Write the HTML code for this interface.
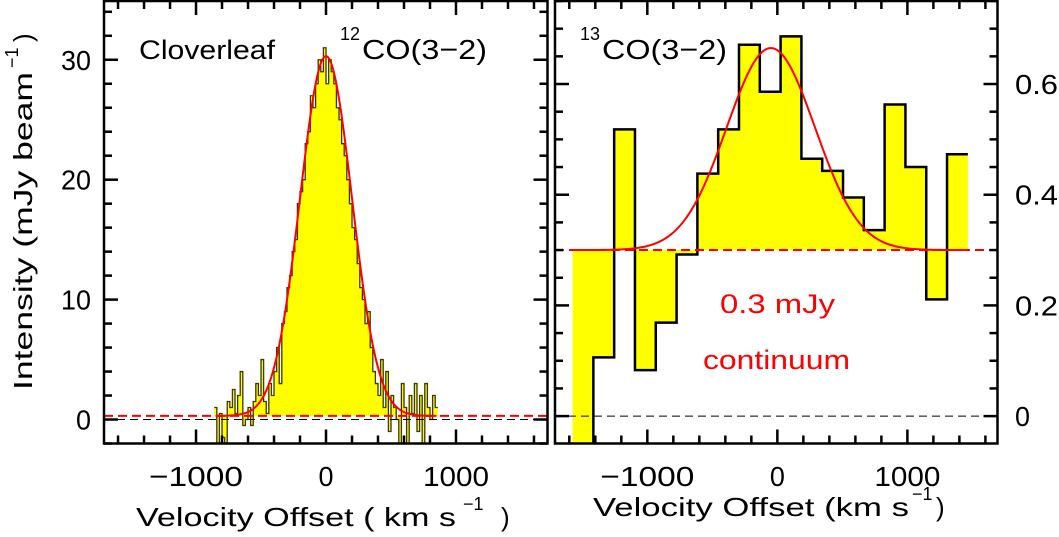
<!DOCTYPE html>
<html><head><meta charset="utf-8"><style>
html,body{margin:0;padding:0;background:#fff;}
svg{display:block;font-family:"Liberation Sans",sans-serif;}
</style></head><body>
<svg id="c" width="1059" height="537" viewBox="0 0 1059 537"></svg>
<script>
// Left panel: 12CO(3-2) spectrum
const leftVel = [-850,-830,-810,-790,-770,-750,-730,-710,-690,-670,-650,-630,-610,-590,-570,-550,-530,-510,-490,-470,-450,-430,-410,-390,-370,-350,-330,-310,-290,-270,-250,-230,-210,-190,-170,-150,-130,-110,-90,-70,-50,-30,-10,10,30,50,70,90,110,130,150,170,190,210,230,250,270,290,310,330,350,370,390,410,430,450,470,490,510,530,550,570,590,610,630,650,670,690,710,730,750,770,790,810,830,850];
const leftFlux = [1.0,-2,0.5,-1.5,-2,1.5,1,2.5,0.5,2,4,-0.5,0,1,-0.5,1.5,3,2,5,1.5,0.5,3,2,4,6,3,8,9,11,12,14,15,18,19,20,23,24,27,26,28,30,29,31,28,30,29,28,26,25,23,22,20,18,16,15,13,11,10,8,9,6,4,3,2,5,1,4,-1,2,1,0,-2,3,1,-2,2,0.5,3,-1,2,-2,3,1,0,2,1];
const leftFit = {amp:30.0, center:0, fwhm:470, base:0.3};
const leftYTicks = [0,10,20,30];
const xTicks = [-1000,0,1000];
// Right panel: 13CO(3-2) binned spectrum
const rightEdgeStart = -1575, rightBinWidth = 160;
const rightFlux = [-0.08,0.106,0.518,0.083,0.169,0.292,0.438,0.518,0.671,0.586,0.686,0.465,0.443,0.395,0.336,0.563,0.450,0.211,0.473];
const rightFit = {amp:0.365, center:-50, fwhm:800, base:0.3};
const rightYTicks = [0,0.2,0.4,0.6];
const rightYLabels = ["0","0.2","0.4","0.6"];

const NS="http://www.w3.org/2000/svg";
const svg=document.getElementById('c');
function mk(tag,attrs,parent){const e=document.createElementNS(NS,tag);for(const k in attrs)e.setAttribute(k,attrs[k]);(parent||svg).appendChild(e);return e;}
function panel(P){
  const xs=v=>P.x0+(v-P.vmin)/(P.vmax-P.vmin)*(P.x1-P.x0);
  const ys=v=>P.y1-(v-P.ymin)/(P.ymax-P.ymin)*(P.y1-P.y0);
  return {xs,ys};
}
const L={x0:104,x1:547.5,y0:1,y1:443.5,vmin:-1708,vmax:1704,ymin:-2,ymax:34.9};
const R={x0:555,x1:997.5,y0:1,y1:443.5,vmin:-1710,vmax:1693,ymin:-0.0495,ymax:0.75};
const l=panel(L), r=panel(R);

const defs=mk('defs',{});
const cpL=mk('clipPath',{id:'cl'},defs);mk('rect',{x:L.x0,y:L.y0,width:L.x1-L.x0,height:L.y1-L.y0},cpL);
const cpR=mk('clipPath',{id:'cr'},defs);mk('rect',{x:R.x0,y:R.y0,width:R.x1-R.x0,height:R.y1-R.y0},cpR);
function gauss(f,v){return f.base+f.amp*Math.exp(-4*Math.LN2*Math.pow((v-f.center)/f.fwhm,2));}

// ---- Left panel ----
const gL=mk('g',{'clip-path':'url(#cl)'});


let step=[];const hw=10;
for(let i=0;i<leftVel.length;i++){step.push([l.xs(leftVel[i]-hw),l.ys(leftFlux[i])]);step.push([l.xs(leftVel[i]+hw),l.ys(leftFlux[i])]);}
const bL=l.ys(leftFit.base);
const fillL=mk('path',{d:'M'+step[0][0]+','+bL+step.map(p=>'L'+p[0]+','+p[1]).join('')+'L'+step[step.length-1][0]+','+bL+'Z',fill:'#ffff00',stroke:'none'},gL);


const lineL=mk('path',{d:'M'+step.map(p=>p[0]+','+p[1]).join('L'),fill:'none',stroke:'#3a3600','stroke-width':1.3},gL);


const z0L=mk('line',{x1:L.x0,x2:L.x1,y1:l.ys(0),y2:l.ys(0),stroke:'#000','stroke-width':1,'stroke-dasharray':'8,5'},gL);


const cL=mk('line',{x1:L.x0,x2:L.x1,y1:bL,y2:bL,stroke:'#ff0000','stroke-width':2,'stroke-dasharray':'9,5'},gL);


let gp=[];for(let v=-850;v<=850;v+=5)gp.push(l.xs(v)+','+l.ys(gauss(leftFit,v)));
const gfL=mk('path',{d:'M'+gp.join('L'),fill:'none',stroke:'#ff0000','stroke-width':2},gL);



// ---- Right panel ----
const gR=mk('g',{'clip-path':'url(#cr)'});


const bR=r.ys(rightFit.base);
let rs=[];
for(let i=0;i<rightFlux.length;i++){const a=rightEdgeStart+i*rightBinWidth;rs.push([r.xs(a),r.ys(rightFlux[i])]);rs.push([r.xs(a+rightBinWidth),r.ys(rightFlux[i])]);}
const fillR=mk('path',{d:'M'+rs[0][0]+','+bR+rs.map(p=>'L'+p[0]+','+p[1]).join('')+'L'+rs[rs.length-1][0]+','+bR+'Z',fill:'#ffff00'},gR);


const lineR=mk('path',{d:'M'+rs.slice(1).map(p=>p[0]+','+p[1]).join('L'),fill:'none',stroke:'#000','stroke-width':2.5},gR);


const z0R=mk('line',{x1:R.x0,x2:R.x1,y1:r.ys(0),y2:r.ys(0),stroke:'#000','stroke-width':1,'stroke-dasharray':'8,5'},gR);


const cR=mk('line',{x1:R.x0,x2:R.x1,y1:bR,y2:bR,stroke:'#ff0000','stroke-width':2,'stroke-dasharray':'9,5'},gR);


let gq=[];for(let v=-1575;v<=1465;v+=10)gq.push(r.xs(v)+','+r.ys(gauss(rightFit,v)));
const gfR=mk('path',{d:'M'+gq.join('L'),fill:'none',stroke:'#ff0000','stroke-width':2},gR);



// ---- Frames and ticks ----
function frame(P,s,name,yMinorStep,yMajorStep){
  const g=mk('g',{stroke:'#000','stroke-width':2.5,fill:'none'});
  
  
  mk('rect',{x:P.x0,y:P.y0,width:P.x1-P.x0,height:P.y1-P.y0},g);
  for(let v=-1600;v<=1600;v+=200){const x=s.xs(v);if(x<P.x0||x>P.x1)continue;const len=(v%1000===0)?14:8;
    mk('line',{x1:x,x2:x,y1:P.y1,y2:P.y1-len},g);mk('line',{x1:x,x2:x,y1:P.y0,y2:P.y0+len},g);}
  const n0=Math.ceil(P.ymin/yMinorStep), n1=Math.floor(P.ymax/yMinorStep);
  for(let n=n0;n<=n1;n++){const v=n*yMinorStep;const y=s.ys(v);const maj=Math.abs(v/yMajorStep-Math.round(v/yMajorStep))<0.01;const len=maj?14:8;
    mk('line',{x1:P.x0,x2:P.x0+len,y1:y,y2:y},g);mk('line',{x1:P.x1,x2:P.x1-len,y1:y,y2:y},g);}
}
frame(L,l,'left-axes-frame',2,10);
frame(R,r,'right-axes-frame',0.05,0.2);

function txt(x,y,s,name,attrs){const t=mk('text',Object.assign({x:x,y:y,'font-size':28,fill:'#000'},attrs||{}));t.textContent=s;return t;}
leftYTicks.forEach(v=>{const t=txt(91,l.ys(v)+10,String(v),'left-y-tick-label',{'text-anchor':'end'});t.setAttribute('textLength',String(v).length*15);t.setAttribute('lengthAdjust','spacingAndGlyphs');});
rightYTicks.forEach((v,i)=>{const t=txt(1015,r.ys(v)+10,rightYLabels[i],'right-y-tick-label');t.setAttribute('textLength',rightYLabels[i].length===1?15:43);t.setAttribute('lengthAdjust','spacingAndGlyphs');});
xTicks.forEach(v=>{const t=txt(l.xs(v),486,v<0?'\u22121000':String(v),'left-x-tick-label',{'text-anchor':'middle'});t.setAttribute('textLength',v<0?94:(v>0?66:15));t.setAttribute('lengthAdjust','spacingAndGlyphs');});
xTicks.forEach(v=>{const t=txt(r.xs(v),486,v<0?'\u22121000':String(v),'right-x-tick-label',{'text-anchor':'middle'});t.setAttribute('textLength',v<0?94:(v>0?66:15));t.setAttribute('lengthAdjust','spacingAndGlyphs');});
</script>
<div style="position:absolute;left:0;top:0;width:1059px;height:537px;pointer-events:none;">
<svg width="1059" height="537" style="position:absolute;left:0;top:0;font-family:'Liberation Sans',sans-serif;">
<text x="139" y="59" font-size="27" textLength="136" lengthAdjust="spacingAndGlyphs">Cloverleaf</text>
<text x="340" y="59" font-size="18" dy="-19">12</text>
<text x="362" y="59" font-size="28" textLength="125" lengthAdjust="spacingAndGlyphs">CO(3−2)</text>
<text x="580" y="59" font-size="18" dy="-19">13</text>
<text x="602" y="59" font-size="28" textLength="125" lengthAdjust="spacingAndGlyphs">CO(3−2)</text>
<text x="720" y="313" font-size="27" fill="#ff0000" textLength="115" lengthAdjust="spacingAndGlyphs">0.3  mJy</text>
<text x="703" y="369" font-size="27" fill="#ff0000" textLength="147" lengthAdjust="spacingAndGlyphs">continuum</text>
<text x="136" y="526" font-size="26" textLength="320" lengthAdjust="spacingAndGlyphs">Velocity Offset ( km s</text>
<text x="463" y="510" font-size="18">−1</text>
<text x="501" y="526" font-size="26">)</text>
<text x="593" y="516" font-size="26" textLength="316" lengthAdjust="spacingAndGlyphs">Velocity Offset (km s</text>
<text x="912" y="500" font-size="18">−1</text>
<text x="936" y="516" font-size="26">)</text>
<g transform="translate(32,390) rotate(-90)">
<text x="0" y="0" font-size="26" textLength="318" lengthAdjust="spacingAndGlyphs">Intensity (mJy beam</text>
<text x="322" y="-14" font-size="18">−1</text>
<text x="348" y="0" font-size="26">)</text>
</g>
</svg></div>
</body></html>
